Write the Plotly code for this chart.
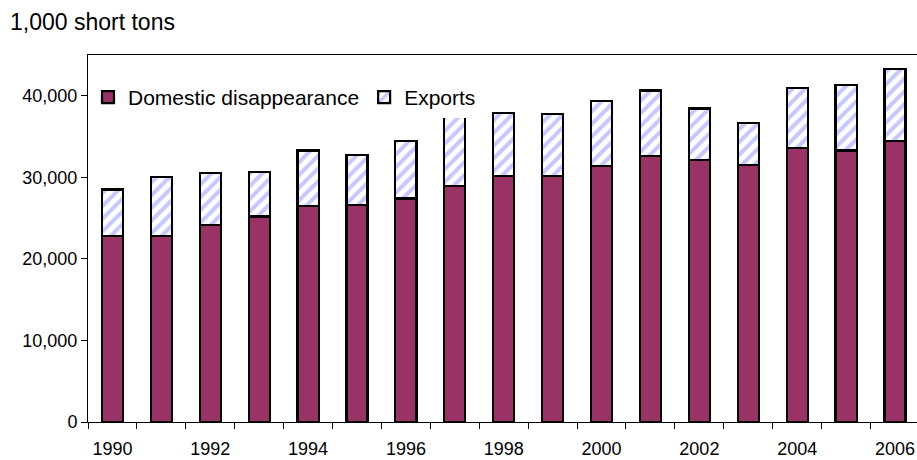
import plotly.graph_objects as go

# Annual totals, 1,000 short tons
years = list(range(1990, 2007))
domestic = [22850, 22850, 24200, 25200, 26450, 26600, 27400, 28900, 30130,
            30130, 31360, 32600, 32150, 31490, 33620, 33300, 34430]
exports = [5650, 7150, 6350, 5500, 6850, 6100, 7100, 9800, 7770,
           7620, 8040, 8060, 6300, 5210, 7380, 7980, 8810]
tick_years = [1990, 1992, 1994, 1996, 1998, 2000, 2002, 2004, 2006]
y_ticks = [0, 10000, 20000, 30000, 40000]

FONT = "Arial, Liberation Sans, sans-serif"

fig = go.Figure()
fig.add_trace(go.Bar(
    x=years, y=domestic, name="Domestic disappearance",
    marker=dict(color="#993366", line=dict(color="black", width=2.2)),
    width=0.43,
))
fig.add_trace(go.Bar(
    x=years, y=exports, name="Exports",
    marker=dict(color="white", line=dict(color="black", width=2.2),
                pattern=dict(shape="/", fgcolor="#8f8fff", bgcolor="white",
                             size=9, solidity=0.45)),
    width=0.43,
))

fig.update_layout(
    barmode="stack",
    width=917, height=460,
    margin=dict(l=88, r=0, t=55, b=38),
    paper_bgcolor="white", plot_bgcolor="white",
    font=dict(family=FONT, size=18, color="black"),
    title=dict(text="1,000 short tons", x=10 / 917, xanchor="left",
               xref="container", y=1 - 22 / 460, yanchor="middle",
               yref="container", font=dict(family=FONT, size=23)),
    legend=dict(orientation="h", x=0.0, xanchor="left", y=0.94,
                yanchor="top", bgcolor="white", font=dict(size=21),
                traceorder="normal", itemwidth=30),
    showlegend=True,
)

fig.update_xaxes(
    range=[1989.5, 2006.45],
    tickmode="array", tickvals=tick_years,
    ticktext=[str(y) for y in tick_years],
    ticks="", showgrid=False, zeroline=False,
    showline=True, linecolor="black", linewidth=1, mirror=True,
    ticklabelstandoff=10,
    minor=dict(tickmode="linear", tick0=1989.5, dtick=1, ticks="outside",
               ticklen=6, tickcolor="black", tickwidth=1, showgrid=False),
)
fig.update_yaxes(
    range=[0, 45000],
    tickmode="array", tickvals=y_ticks, tickformat=",d",
    ticks="outside", ticklen=6, tickcolor="black", tickwidth=1,
    showgrid=False, zeroline=False,
    showline=True, linecolor="black", linewidth=1, mirror=False,
)

fig.write_html("out.html")
